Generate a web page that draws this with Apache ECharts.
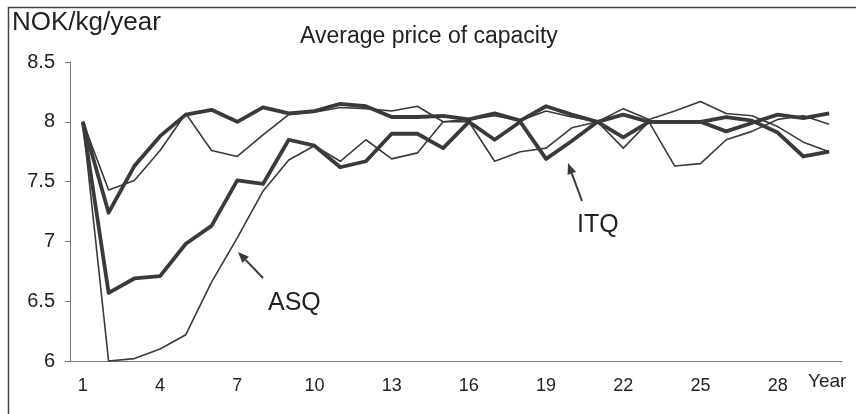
<!DOCTYPE html>
<html>
<head>
<meta charset="utf-8">
<script src="https://cdn.jsdelivr.net/npm/echarts@6/dist/echarts.min.js"></script>
<style>
html,body{margin:0;padding:0;background:#fff;}
#chart{width:856px;height:414px;}
</style>
</head>
<body>
<div id="chart"></div>
<script>
const years = ['1','2','3','4','5','6','7','8','9','10','11','12','13','14','15','16','17','18','19','20','21','22','23','24','25','26','27','28','29','30'];
const yTicks = [6, 6.5, 7, 7.5, 8, 8.5];
const seriesA = [8.0,7.24,7.63,7.88,8.06,8.10,8.0,8.12,8.07,8.09,8.15,8.13,8.04,8.04,8.05,8.02,8.07,8.01,8.13,8.06,8.0,7.87,8.0,8.0,8.0,8.04,8.01,7.91,7.71,7.75];
const seriesB = [8.0,7.43,7.51,7.76,8.07,7.76,7.71,7.89,8.06,8.08,8.12,8.11,8.09,8.13,8.0,8.02,8.05,8.01,8.09,8.04,8.0,8.11,8.02,8.09,8.17,8.07,8.05,7.96,7.83,7.75];
const seriesC = [8.0,6.57,6.69,6.71,6.98,7.13,7.51,7.48,7.85,7.80,7.62,7.67,7.90,7.90,7.78,8.0,7.85,8.0,7.69,7.84,8.0,8.06,8.0,8.0,8.0,7.92,7.99,8.06,8.03,8.07];
const seriesD = [8.0,6.0,6.02,6.10,6.22,6.66,7.03,7.42,7.68,7.80,7.67,7.85,7.69,7.74,8.0,8.0,7.67,7.75,7.78,7.95,8.0,7.78,8.0,7.63,7.65,7.85,7.92,8.02,8.05,7.98];

const FONT = 'Liberation Sans, Arial, sans-serif';
const INK = '#3a3a3a';

function arrow(x1, y1, x2, y2) {
  const ang = Math.atan2(y2 - y1, x2 - x1);
  const L = 11, W = 4.5;
  const bx = x2 - L * Math.cos(ang), by = y2 - L * Math.sin(ang);
  const px = -Math.sin(ang) * W, py = Math.cos(ang) * W;
  return [
    { type: 'line', shape: { x1: x1, y1: y1, x2: bx, y2: by }, style: { stroke: INK, lineWidth: 2 } },
    { type: 'polygon', shape: { points: [[x2, y2], [bx + px, by + py], [bx - px, by - py]] }, style: { fill: INK } }
  ];
}

const chart = echarts.init(document.getElementById('chart'));
const lineSeries = (data, w) => ({
  type: 'line', data: data, symbol: 'none', silent: true,
  lineStyle: { color: INK, width: w, join: 'round' }
});

chart.setOption({
  animation: false,
  backgroundColor: '#fff',
  grid: { left: 70, right: 14, top: 62, bottom: 53 },
  xAxis: {
    type: 'category', data: years, boundaryGap: true,
    axisLine: { lineStyle: { color: '#777', width: 1 } },
    axisTick: { interval: 0, length: 5, lineStyle: { color: '#777' } },
    axisLabel: { interval: 2, color: '#222', fontFamily: FONT, fontSize: 18, margin: 16 },
    splitLine: { show: false }
  },
  yAxis: {
    type: 'value', min: yTicks[0], max: yTicks[yTicks.length - 1], interval: 0.5,
    axisLine: { show: true, lineStyle: { color: '#777', width: 1 } },
    axisTick: { show: true, length: 5, lineStyle: { color: '#777' } },
    axisLabel: { color: '#222', fontFamily: FONT, fontSize: 20, margin: 15 },
    splitLine: { show: false }
  },
  series: [
    lineSeries(seriesB, 1.6),
    lineSeries(seriesD, 1.6),
    lineSeries(seriesA, 3.8),
    lineSeries(seriesC, 3.8)
  ],
  graphic: [
    { type: 'rect', shape: { x: 8.5, y: 7.5, width: 900, height: 500 }, style: { fill: 'none', stroke: '#444', lineWidth: 1.5 }, silent: true },
    { type: 'text', left: 12, top: 10, style: { text: 'NOK/kg/year', font: '26px ' + FONT, fill: '#222' } },
    { type: 'text', left: 300, top: 25, style: { text: 'Average price of capacity', font: '23px ' + FONT, fill: '#222' } },
    { type: 'text', left: 808, top: 372, style: { text: 'Year', font: '19px ' + FONT, fill: '#222' } },
    { type: 'text', left: 268, top: 291, style: { text: 'ASQ', font: '25px ' + FONT, fill: '#222' } },
    { type: 'text', left: 577, top: 213, style: { text: 'ITQ', font: '25px ' + FONT, fill: '#222' } },
    ...arrow(263, 278, 238, 252),
    ...arrow(582, 201, 568, 163)
  ]
});
</script>
</body>
</html>
